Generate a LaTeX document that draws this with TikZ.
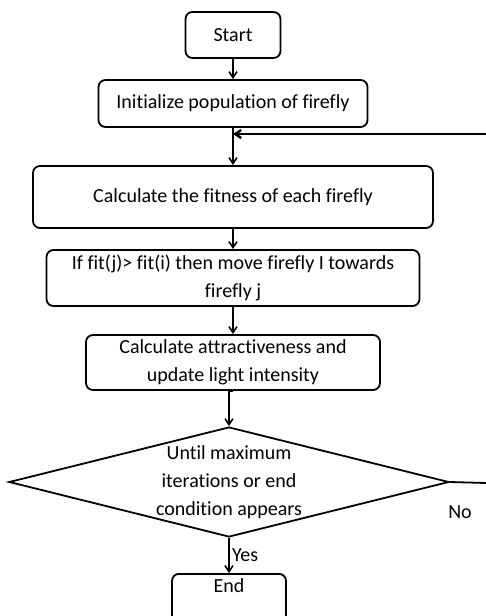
\documentclass[tikz,border=0pt]{standalone}
\usepackage{fontspec}
\setmainfont[Ligatures={NoCommon}]{Carlito}
\usetikzlibrary{arrows.meta, shapes.geometric}
\tikzset{
    every node/.style={font=\fontsize{20}{28.2}\selectfont, align=center},
    stepbox/.style={draw, line width=1.8pt, rounded corners=7pt, inner sep=0pt},
    decision/.style={draw, diamond, aspect=4, line width=1.8pt, inner sep=0pt},
    flow/.style={-{Straight Barb[length=6pt, width=8pt]}, line width=1.6pt}
}

\begin{document}
\begin{tikzpicture}[x=1pt, y=-1pt]
  \useasboundingbox (0,0) rectangle (486,616);
  \node (start) [stepbox, minimum width=95pt, minimum height=46pt] at (233, 35) {Start};
  \node (init) [stepbox, minimum width=269pt, minimum height=47pt] at (233, 103.5) {Initialize population of firefly};
  \node (fitness) [stepbox, minimum width=400pt, minimum height=62pt] at (233, 197) {Calculate the fitness of each firefly};
  \node (movefly) [stepbox, minimum width=373pt, minimum height=56pt] at (233, 278) {If fit(j)> fit(i) then move firefly I towards\\firefly j};
  \node (attract) [stepbox, minimum width=294pt, minimum height=55pt] at (233, 362.5) {Calculate attractiveness and\\update light intensity};
  \node (until) [decision, minimum width=432pt, minimum height=108pt] at (229, 482) {Until maximum\\iterations or end\\condition appears};
  \node (stop) [stepbox, minimum width=114pt, anchor=north, text height=19pt, text depth=40pt] at (229, 573) {End};

  \coordinate (back) at (486, 134);
  \coordinate (noend) at (486, 483);

  \draw[flow] (start.south) -- (start.south |- init.north);
  \draw[flow] (init.south) -- (init.south |- fitness.north);
  \draw[flow] (fitness.south) -- (fitness.south |- movefly.north);
  \draw[flow] (movefly.south) -- (movefly.south |- attract.north);
  \draw[flow] (attract.south) -- (attract.south -| until.north) -- (until.north);
  \draw[flow] (until.south) -- node[right=-1pt] {Yes} (stop.north);

  \draw[flow, line width=2.4pt] (back) -- (init.south |- back);
  \draw[line width=1.8pt] (until.east) -- (noend);
  \node (no) at (460, 512) {No};
\end{tikzpicture}
\end{document}
